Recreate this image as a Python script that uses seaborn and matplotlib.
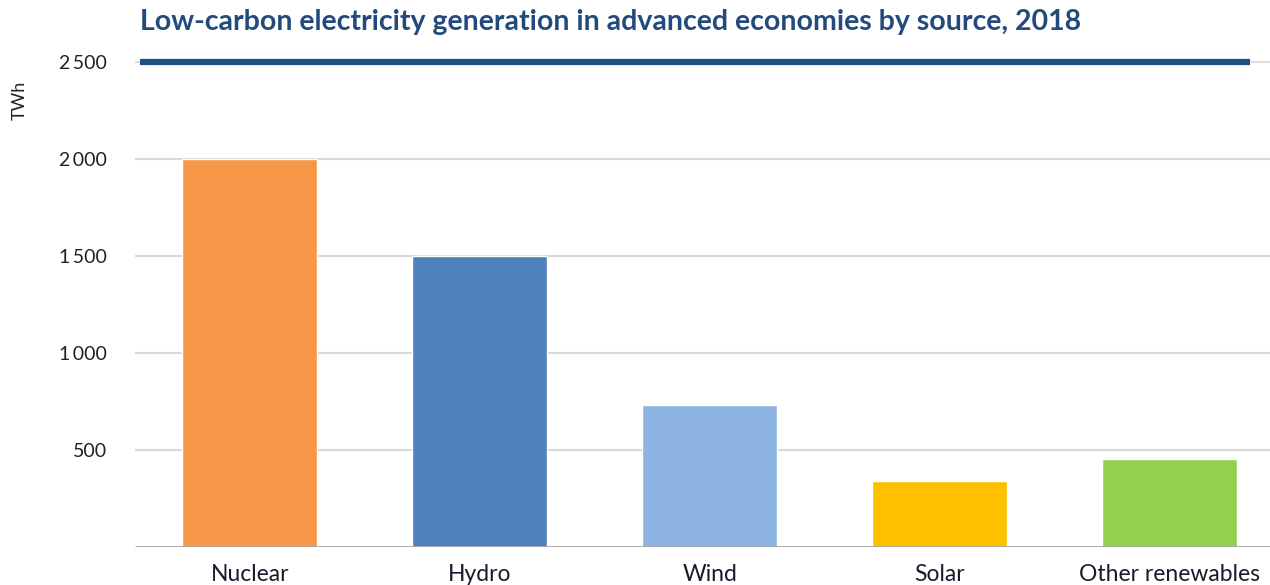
import matplotlib
matplotlib.use("Agg")
import matplotlib.pyplot as plt
import seaborn as sns
import pandas as pd

sources = ["Nuclear", "Hydro", "Wind", "Solar", "Other renewables"]
generation_twh = [2000, 1500, 730, 340, 455]
bar_colors = ["#f79646", "#4f81bd", "#8eb4e3", "#ffc000", "#92d050"]
tick_values = [500, 1000, 1500, 2000, 2500]
tick_labels = ["500", "1\u2009000", "1\u2009500", "2\u2009000", "2\u2009500"]

sns.set_theme(style="white")
plt.rcParams["font.family"] = ["Lato", "DejaVu Sans"]

df = pd.DataFrame({"source": sources, "twh": generation_twh})

fig = plt.figure(figsize=(12.7, 5.85), dpi=100)
ax = fig.add_axes([135 / 1270, 38 / 585, 1 - 135 / 1270, 504.4 / 585])

sns.barplot(data=df, x="source", y="twh", hue="source", palette=bar_colors,
            order=sources, hue_order=sources, legend=False, width=0.587,
            saturation=1, ax=ax, zorder=3)

ax.set_xlim(-0.5, 4.435)
ax.set_ylim(0, 2600)
ax.set_yticks(tick_values)
ax.set_yticklabels(tick_labels)
ax.set_xlabel("")
ax.set_ylabel("")

for v in tick_values[:-1]:
    ax.axhline(v, color="#d9d9d9", lw=1.5, zorder=1)
ax.axhline(2500, color="#e0e0e0", lw=1.5, zorder=1)
ax.axhline(2500, xmin=0.004, xmax=0.982, color="#1f4e82", lw=4.5, zorder=4,
           solid_capstyle="butt")
ax.axhline(0, color="#a6a6a6", lw=2, zorder=4, solid_capstyle="butt")

for s in ax.spines.values():
    s.set_visible(False)

ax.tick_params(axis="y", length=0, pad=20, labelsize=14, labelcolor="#222222")
ax.tick_params(axis="x", length=0, pad=12, labelsize=16.5, labelcolor="#1a1a2a")

fig.text(20 / 1270, 1 - 100 / 585, "TWh", rotation=90, ha="center", va="center",
         fontsize=13, color="#222222")
fig.text(140 / 1270, 1 - 22 / 585, "Low-carbon electricity generation in advanced economies by source, 2018",
         ha="left", va="center", fontsize=20.5, fontweight="bold", color="#234a7c")

fig.savefig("out.png", dpi=100, facecolor="white")
